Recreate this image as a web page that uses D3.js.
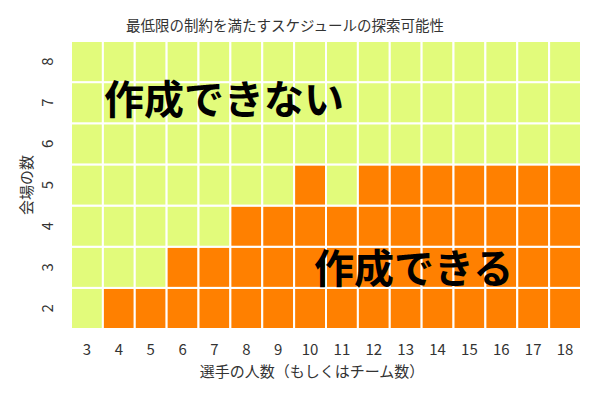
<!DOCTYPE html>
<html><head><meta charset="utf-8">
<script src="https://cdn.jsdelivr.net/npm/d3@7"></script>
<style>body{margin:0;background:#fff;}text{font-family:"Noto Sans CJK JP","Noto Sans",sans-serif;}</style>
</head><body><svg id="c" width="600" height="400"></svg>
<script>
const players = [3,4,5,6,7,8,9,10,11,12,13,14,15,16,17,18];
const venues = [2,3,4,5,6,7,8];
// 1 = a schedule can be built, 0 = cannot
const feasible2 = [0,1,1,1,1,1,1,1,1,1,1,1,1,1,1,1];
const feasible3 = [0,0,0,1,1,1,1,1,1,1,1,1,1,1,1,1];
const feasible4 = [0,0,0,0,0,1,1,1,1,1,1,1,1,1,1,1];
const feasible5 = [0,0,0,0,0,0,0,1,0,1,1,1,1,1,1,1];
const feasible6 = [0,0,0,0,0,0,0,0,0,0,0,0,0,0,0,0];
const feasible7 = [0,0,0,0,0,0,0,0,0,0,0,0,0,0,0,0];
const feasible8 = [0,0,0,0,0,0,0,0,0,0,0,0,0,0,0,0];
const rows = [feasible2,feasible3,feasible4,feasible5,feasible6,feasible7,feasible8];
const title = "最低限の制約を満たすスケジュールの探索可能性";
const xTitle = "選手の人数（もしくはチーム数）";
const yTitle = "会場の数";
const labelNo = "作成できない";
const labelYes = "作成できる";

const svg = d3.select("#c");
const L=71,R=581,T=41,B=329;
const x = d3.scaleBand().domain(players).range([L,R]).paddingInner(0);
const y = d3.scaleBand().domain(venues).range([B,T]);
const color = d3.scaleOrdinal().domain([0,1]).range(["#e2fb7b","#ff8000"]);

const cells=[];
venues.forEach((v,i)=>players.forEach((p,j)=>cells.push({p,v,f:rows[i][j]})));
svg.append("g").selectAll("rect").data(cells).join("rect")
  .attr("x",d=>x(d.p)).attr("y",d=>y(d.v))
  .attr("width",x.bandwidth()).attr("height",y.bandwidth())
  .attr("fill",d=>color(d.f)).attr("stroke","#fff").attr("stroke-width",2);

svg.append("text").attr("x",285).attr("y",31).attr("text-anchor","middle")
  .attr("font-size",14.5).attr("fill","#333").text(title);

svg.selectAll(".xt").data(players).join("text").attr("class","xt")
  .attr("x",d=>x(d)+x.bandwidth()/2).attr("y",355).attr("text-anchor","middle")
  .attr("font-size",15).attr("fill","#333").text(d=>d);
svg.append("text").attr("x",312).attr("y",377).attr("text-anchor","middle")
  .attr("font-size",15).attr("fill","#333").text(xTitle);

svg.selectAll(".yt").data(venues).join("text").attr("class","yt")
  .attr("transform",d=>`translate(53,${y(d)+y.bandwidth()/2}) rotate(-90)`)
  .attr("text-anchor","middle").attr("font-size",15).attr("fill","#333").text(d=>d);
svg.append("text").attr("transform",`translate(32,${(T+B)/2}) rotate(-90)`)
  .attr("text-anchor","middle").attr("font-size",15).attr("fill","#333").text(yTitle);

svg.append("text").attr("x",104).attr("y",114).attr("font-size",40).attr("font-weight","bold")
  .attr("fill","#000").text(labelNo);
svg.append("text").attr("x",314).attr("y",283).attr("font-size",40).attr("font-weight","bold")
  .attr("fill","#000").text(labelYes);
</script></body></html>
